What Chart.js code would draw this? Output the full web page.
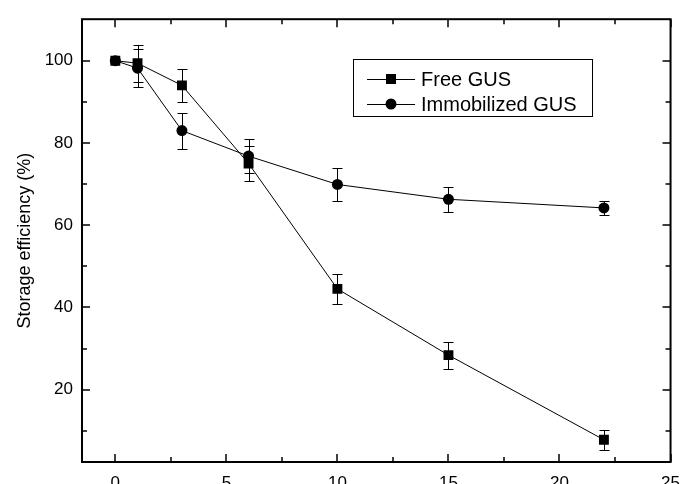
<!DOCTYPE html>
<html>
<head>
<meta charset="utf-8">
<script src="https://cdn.jsdelivr.net/npm/chart.js@4"></script>
<style>
  html, body { margin: 0; padding: 0; background: #fff; overflow: hidden; }
  #wrap { width: 691px; height: 496px; }
</style>
</head>
<body>
<div id="wrap"><canvas id="myChart" width="691" height="496"></canvas></div>
<script>
// storage days
const days = [0, 1, 3, 6, 10, 15, 22];

// storage efficiency (%) and error bars
const freeGus = [100, 99.4, 94, 75, 44.5, 28.4, 7.8];
const freeErr = [0, 4.5, 4, 4.2, 3.7, 3.3, 2.4];
const immobGus = [100, 98.2, 83, 76.8, 69.9, 66.3, 64.2];
const immobErr = [0, 4.7, 4.4, 4.2, 3.9, 3.1, 1.8];

const xTicks = [0, 5, 10, 15, 20, 25];
const yTicks = [20, 40, 60, 80, 100];

const seriesNames = ["Free GUS", "Immobilized GUS"];

const FONT = "'Liberation Sans', Arial, sans-serif";

function toPoints(xs, ys) {
  const pts = [];
  for (let i = 0; i < xs.length; i++) {
    pts.push({ x: xs[i], y: ys[i] });
  }
  return pts;
}

// error bars, drawn through the chart scales
const errorBars = {
  id: "errorBars",
  beforeDatasetsDraw(chart) {
    const ctx = chart.ctx;
    const xs = chart.scales.x;
    const ys = chart.scales.y;
    ctx.save();
    ctx.strokeStyle = "#000";
    ctx.lineWidth = 1;
    chart.data.datasets.forEach((ds) => {
      for (let i = 0; i < ds.data.length; i++) {
        const e = ds.errors[i];
        if (!e) continue;
        const px = Math.round(xs.getPixelForValue(ds.data[i].x)) + 0.5;
        const top = Math.round(ys.getPixelForValue(ds.data[i].y + e)) + 0.5;
        const bot = Math.round(ys.getPixelForValue(ds.data[i].y - e)) + 0.5;
        ctx.beginPath();
        ctx.moveTo(px, top);
        ctx.lineTo(px, bot);
        ctx.moveTo(px - 5, top);
        ctx.lineTo(px + 5, top);
        ctx.moveTo(px - 5, bot);
        ctx.lineTo(px + 5, bot);
        ctx.stroke();
      }
    });
    ctx.restore();
  },
};

// frame with inward ticks on all four sides, plus the legend box
const frame = {
  id: "frame",
  afterDraw(chart) {
    const ctx = chart.ctx;
    const a = chart.chartArea;
    const xs = chart.scales.x;
    const ys = chart.scales.y;
    ctx.save();
    ctx.strokeStyle = "#000";
    ctx.lineWidth = 2;
    ctx.strokeRect(a.left, a.top, a.right - a.left, a.bottom - a.top);

    ctx.lineWidth = 1.5;
    ctx.beginPath();
    for (let v = 0; v <= 25; v += 2.5) {
      const px = Math.round(xs.getPixelForValue(v));
      const len = v % 5 === 0 ? 8 : 5;
      ctx.moveTo(px, a.bottom);
      ctx.lineTo(px, a.bottom - len);
      ctx.moveTo(px, a.top);
      ctx.lineTo(px, a.top + len);
    }
    for (let v = 10; v <= 100; v += 10) {
      const py = Math.round(ys.getPixelForValue(v));
      const len = v % 20 === 0 ? 8 : 5;
      ctx.moveTo(a.left, py);
      ctx.lineTo(a.left + len, py);
      ctx.moveTo(a.right, py);
      ctx.lineTo(a.right - len, py);
    }
    ctx.stroke();

    // legend box
    const bx = 353, by = 59, bw = 239, bh = 57;
    ctx.lineWidth = 1;
    ctx.strokeRect(bx + 0.5, by + 0.5, bw, bh);
    const rows = [by + 20, by + 45];
    ctx.font = "20px " + FONT;
    ctx.textBaseline = "middle";
    ctx.fillStyle = "#000";
    rows.forEach((ry, i) => {
      ctx.beginPath();
      ctx.moveTo(367, ry + 0.5);
      ctx.lineTo(415, ry + 0.5);
      ctx.stroke();
      if (i === 0) {
        ctx.fillRect(386, ry - 5, 10, 10);
      } else {
        ctx.beginPath();
        ctx.arc(391, ry, 5.5, 0, Math.PI * 2);
        ctx.fill();
      }
      ctx.fillText(seriesNames[i], 421, ry + 1);
    });
    ctx.restore();
  },
};

const ctx = document.getElementById("myChart");

new Chart(ctx, {
  type: "scatter",
  data: {
    datasets: [
      {
        label: seriesNames[0],
        data: toPoints(days, freeGus),
        errors: freeErr,
        showLine: true,
        borderColor: "#000",
        backgroundColor: "#000",
        borderWidth: 1,
        pointStyle: "rect",
        pointRadius: 7,
        pointBorderWidth: 0,
      },
      {
        label: seriesNames[1],
        data: toPoints(days, immobGus),
        errors: immobErr,
        showLine: true,
        borderColor: "#000",
        backgroundColor: "#000",
        borderWidth: 1,
        pointStyle: "circle",
        pointRadius: 5.5,
        pointBorderWidth: 0,
      },
    ],
  },
  options: {
    responsive: false,
    animation: false,
    layout: { padding: { top: 15, right: 9, left: 0, bottom: 0 } },
    plugins: {
      legend: { display: false },
      tooltip: { enabled: false },
    },
    scales: {
      x: {
        type: "linear",
        min: -1.5,
        max: 25,
        afterBuildTicks: (s) => { s.ticks = xTicks.map((v) => ({ value: v })); },
        afterFit: (s) => { s.height = 34; },
        grid: { display: false, drawTicks: false },
        border: { display: false },
        ticks: { color: "#000", padding: 11, font: { family: FONT, size: 17 } },
      },
      y: {
        type: "linear",
        min: 2.4,
        max: 110.1,
        afterBuildTicks: (s) => { s.ticks = yTicks.map((v) => ({ value: v })); },
        afterFit: (s) => { s.width = 82; },
        grid: { display: false, drawTicks: false },
        border: { display: false },
        title: {
          display: true,
          text: "Storage efficiency (%)",
          color: "#000",
          padding: { top: 14, bottom: 0 },
          font: { family: FONT, size: 18 },
        },
        ticks: { color: "#000", padding: 9, font: { family: FONT, size: 17 } },
      },
    },
  },
  plugins: [errorBars, frame],
});
</script>
</body>
</html>
